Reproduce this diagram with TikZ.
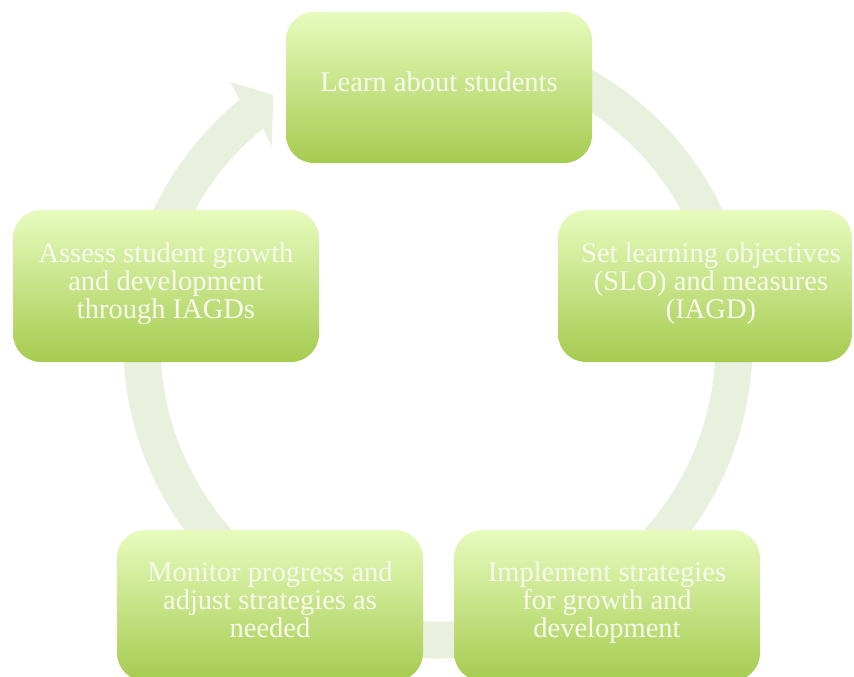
\documentclass[tikz,border=0pt]{standalone}
\usepackage{fontspec}
\setmainfont{Liberation Serif}
\usetikzlibrary{calc}
\definecolor{ringc}{RGB}{233,240,222}
\definecolor{boxtop}{RGB}{231,251,190}
\definecolor{boxbot}{RGB}{166,203,80}
\definecolor{txtc}{RGB}{247,250,238}
\begin{document}
\begin{tikzpicture}[x=1pt,y=1pt,
  stagebox/.style={rounded corners=28pt, top color=boxtop, bottom color=boxbot, draw=none, inner sep=0pt},
  stagetext/.style={anchor=base, text=txtc, inner sep=0pt, font=\fontsize{28.5}{27.5}\selectfont},
  ringline/.style={draw=ringc, line width=37pt}]
\useasboundingbox (0,0) rectangle (854,-677);
\coordinate (C) at (438,-344);
% cycle ring with arrow head
\coordinate (ringstart) at ($(C)+(80:296)$);
\draw[ringline] (ringstart) arc[start angle=80, end angle=-231, radius=296];
\fill[ringc] ($(C)+(123.5:298.7)$) -- ($(C)+(128.4:334.5)$) -- ($(C)+(129.1:314)$)
  -- ($(C)+(129.1:278)$) -- ($(C)+(130:258.4)$) -- cycle;
% boxes
\node[stagebox, minimum width=306pt, minimum height=151pt] (b1) at (439,-87.5) {};
\node[stagebox, minimum width=294pt, minimum height=152pt] (b2) at (705,-286) {};
\node[stagebox, minimum width=306pt, minimum height=151pt] (b3) at (607,-605.5) {};
\node[stagebox, minimum width=306pt, minimum height=151pt] (b4) at (270,-605.5) {};
\node[stagebox, minimum width=306pt, minimum height=152pt] (b5) at (166,-286) {};
% texts
\node[stagetext] (t1) at (439,-92) {Learn about students};
\node[stagetext] (t2) at (711,-262) {\begin{tabular}[t]{@{}c@{}}Set learning objectives\\(SLO) and measures\\(IAGD)\end{tabular}};
\node[stagetext] (t3) at (607,-581) {\begin{tabular}[t]{@{}c@{}}Implement strategies\\for growth and\\development\end{tabular}};
\node[stagetext] (t4) at (270,-581) {\begin{tabular}[t]{@{}c@{}}Monitor progress and\\adjust strategies as\\needed\end{tabular}};
\node[stagetext] (t5) at (166,-262) {\begin{tabular}[t]{@{}c@{}}Assess student growth\\and development\\through IAGDs\end{tabular}};
\end{tikzpicture}
\end{document}
